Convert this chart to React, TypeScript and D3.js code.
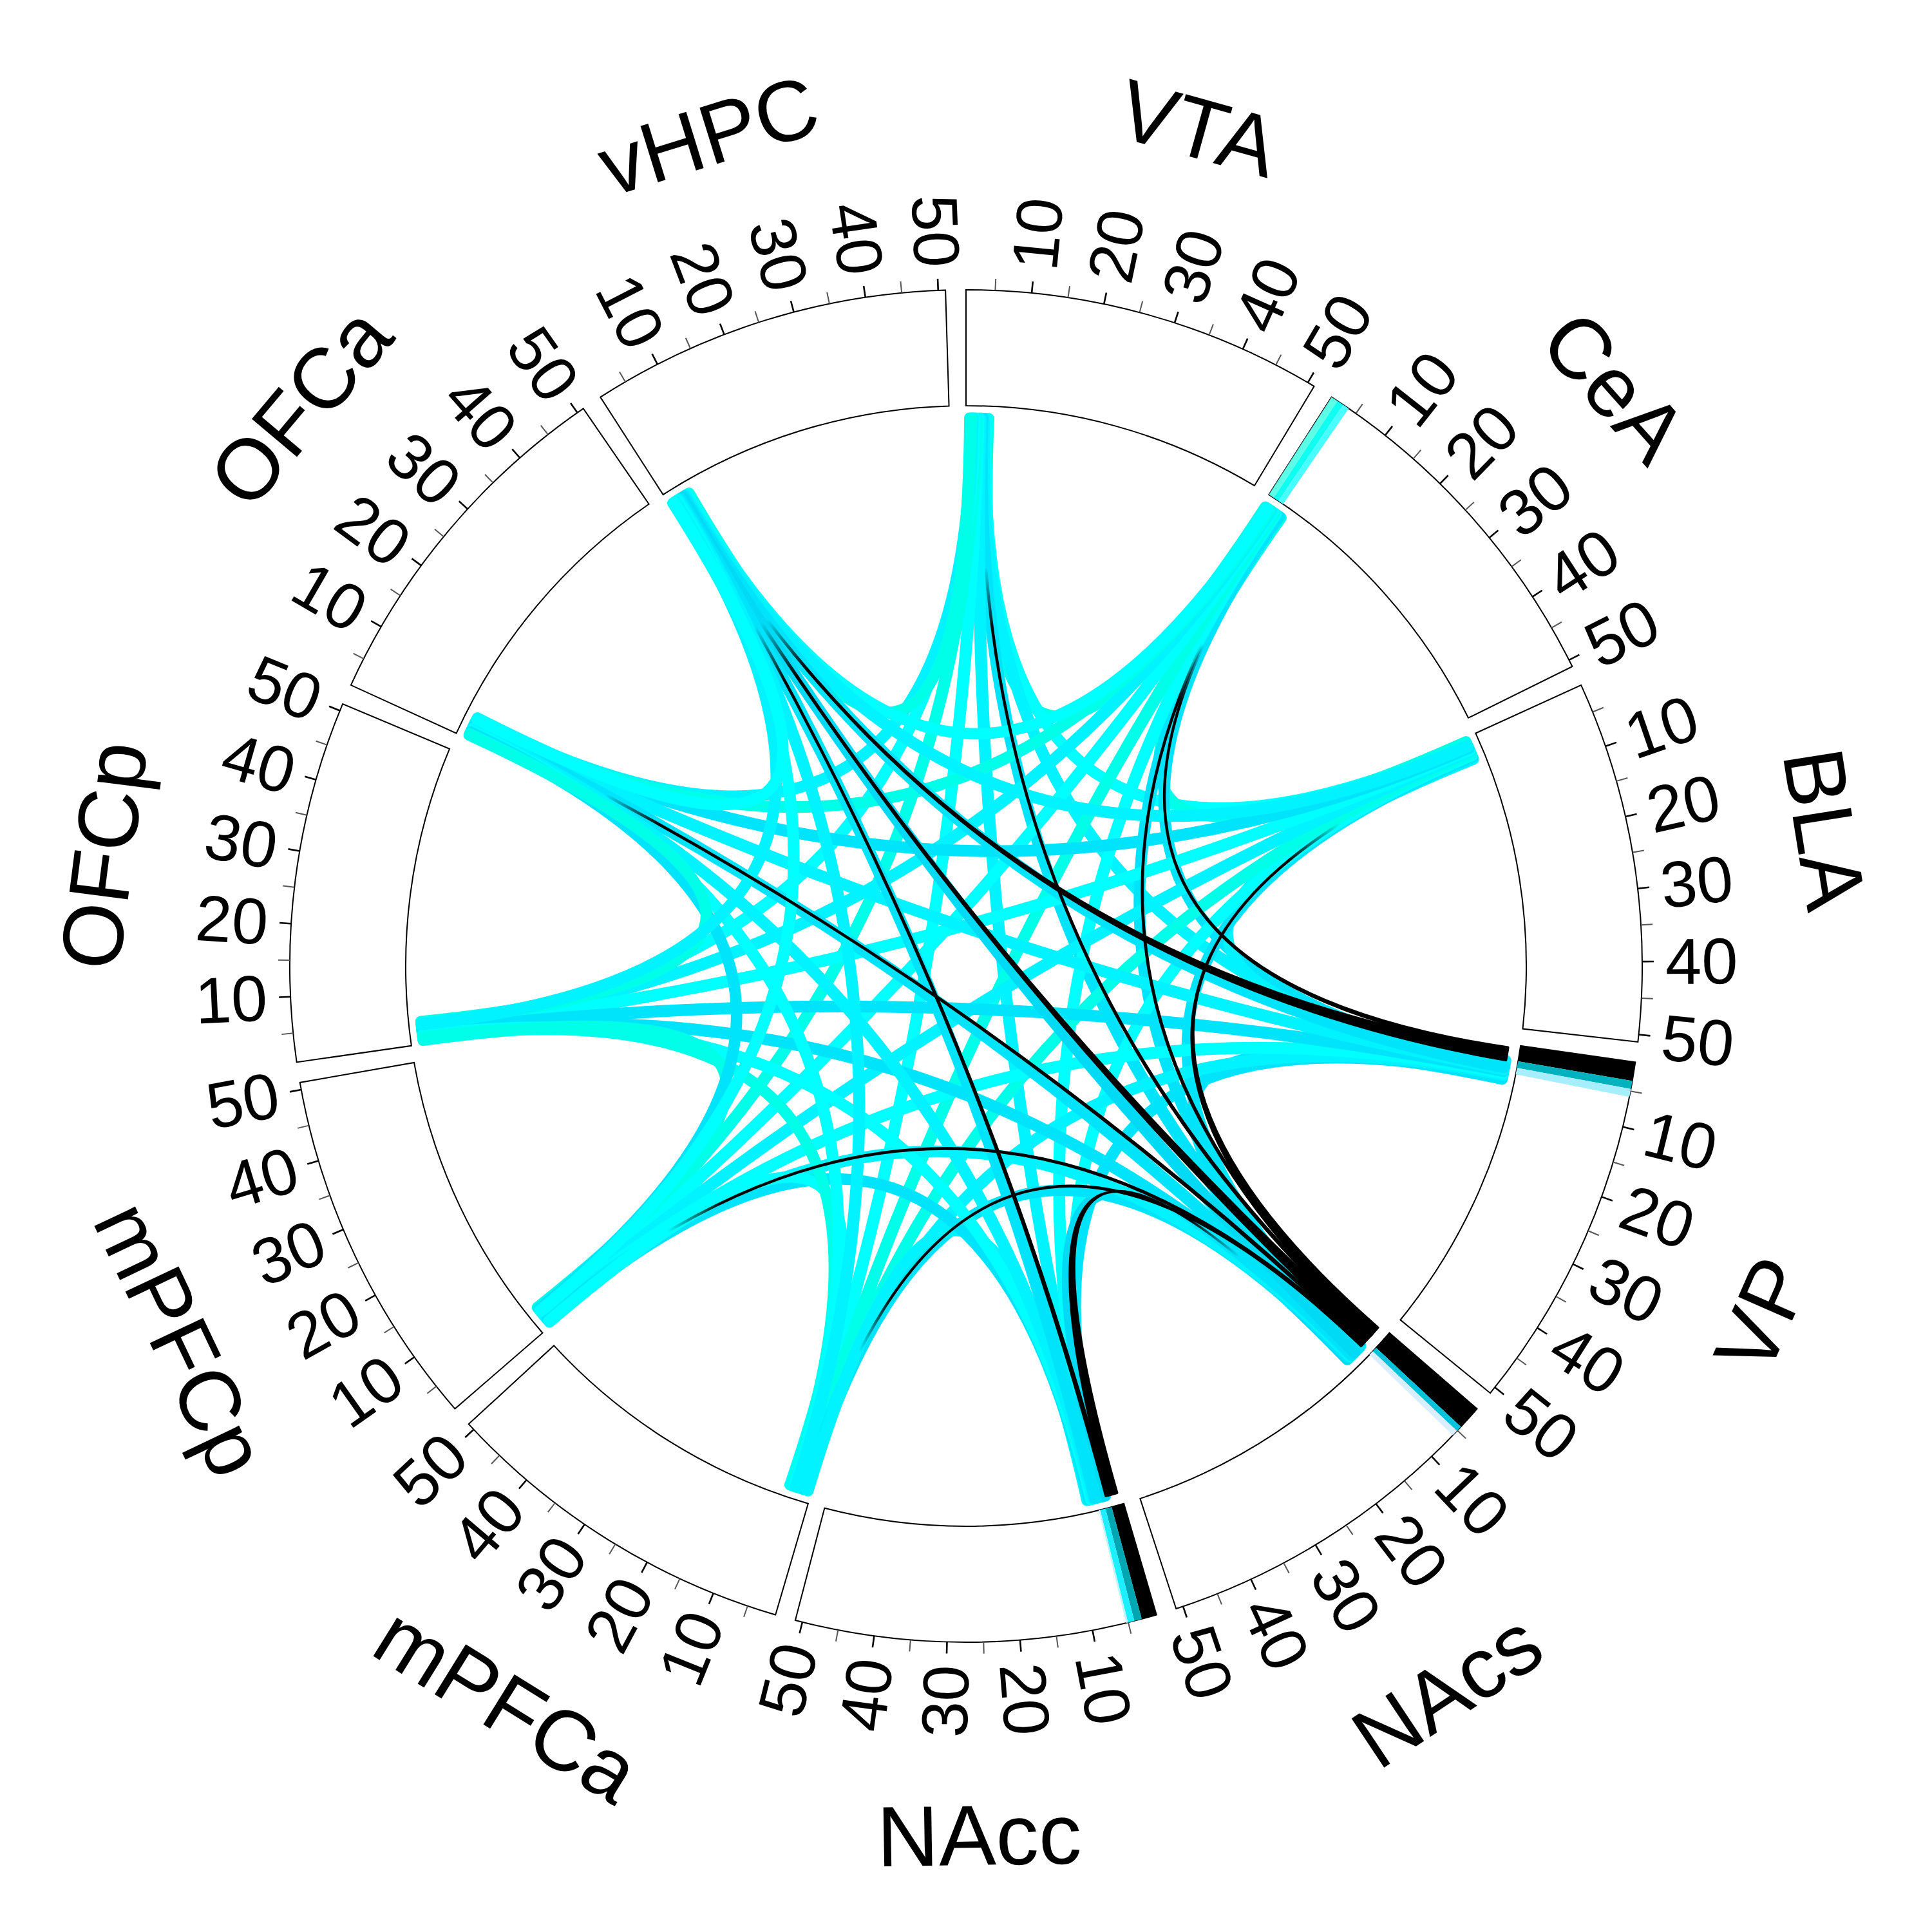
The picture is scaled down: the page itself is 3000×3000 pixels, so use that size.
import React from 'react'
import * as d3 from 'd3'

const SECTORS = ['VTA', 'CeA', 'BLA', 'VP', 'NAcs', 'NAcc', 'mPFCa', 'mPFCp', 'OFCp', 'OFCa', 'vHPC']
const SECTOR_RANGE: [number, number] = [1, 51]
const MAJOR_TICKS = [10, 20, 30, 40, 50]
const MINOR_TICKS = [5, 15, 25, 35, 45]

// link colours
const CY = '#00ffff'
const CL = '#00f3ff'
const CB = '#00e4fb'
const CD = '#00daf4'
const CG = '#00ffe8'

// every pair of regions, with the colour of its link
const CYAN_LINKS: [string, string, string][] = [
  ['VTA', 'CeA', CG], ['VTA', 'BLA', CY], ['VTA', 'VP', CL], ['VTA', 'NAcs', CB], ['VTA', 'NAcc', CL],
  ['VTA', 'mPFCa', CY], ['VTA', 'mPFCp', CG], ['VTA', 'OFCp', CY], ['VTA', 'OFCa', CL], ['VTA', 'vHPC', CG],
  ['CeA', 'BLA', CG], ['CeA', 'VP', CB], ['CeA', 'NAcs', CB], ['CeA', 'NAcc', CY], ['CeA', 'mPFCa', CG],
  ['CeA', 'mPFCp', CY], ['CeA', 'OFCp', CL], ['CeA', 'OFCa', CG], ['CeA', 'vHPC', CY],
  ['BLA', 'VP', CL], ['BLA', 'NAcs', CB], ['BLA', 'NAcc', CY], ['BLA', 'mPFCa', CG], ['BLA', 'mPFCp', CL],
  ['BLA', 'OFCp', CY], ['BLA', 'OFCa', CB], ['BLA', 'vHPC', CL],
  ['VP', 'NAcs', CB], ['VP', 'NAcc', CB], ['VP', 'mPFCa', CL], ['VP', 'mPFCp', CY], ['VP', 'OFCp', CB],
  ['VP', 'OFCa', CL], ['VP', 'vHPC', CB],
  ['NAcs', 'NAcc', CD], ['NAcs', 'mPFCa', CB], ['NAcs', 'mPFCp', CL], ['NAcs', 'OFCp', CB], ['NAcs', 'OFCa', CB],
  ['NAcs', 'vHPC', CD],
  ['NAcc', 'mPFCa', CL], ['NAcc', 'mPFCp', CB], ['NAcc', 'OFCp', CY], ['NAcc', 'OFCa', CL], ['NAcc', 'vHPC', CB],
  ['mPFCa', 'mPFCp', CY], ['mPFCa', 'OFCp', CG], ['mPFCa', 'OFCa', CY], ['mPFCa', 'vHPC', CL],
  ['mPFCp', 'OFCp', CG], ['mPFCp', 'OFCa', CB], ['mPFCp', 'vHPC', CY],
  ['OFCp', 'OFCa', CG], ['OFCp', 'vHPC', CL],
  ['OFCa', 'vHPC', CY],
]

// black ribbons: thin end region, thick end region, width at thin end, width at thick end
const BLACK_LINKS: [string, string, number, number][] = [
  ['VTA', 'NAcs', 0.08, 0.35],
  ['CeA', 'NAcs', 0.08, 0.3],
  ['CeA', 'VP', 0.08, 0.45],
  ['vHPC', 'NAcc', 0.06, 0.45],
  ['OFCa', 'NAcs', 0.06, 0.35],
  ['mPFCp', 'NAcs', 0.05, 0.25],
  ['mPFCa', 'NAcs', 0.05, 0.25],
  ['BLA', 'NAcs', 0.08, 1.25],
  ['vHPC', 'VP', 0.08, 1.7],
  ['vHPC', 'NAcs', 0.1, 1.45],
  ['NAcs', 'NAcc', 0.08, 1.5],
]

// stacked blocks in the track at the start of some sectors
const TRACK_BARS: [string, number, number, string][] = [
  ['CeA', 1, 1.95, '#5cffe6'],
  ['CeA', 1.95, 2.9, '#0ffff0'],
  ['CeA', 2.9, 3.8, '#48ffff'],
  ['VP', 1, 3.6, '#000000'],
  ['VP', 3.6, 4.7, '#00b2be'],
  ['VP', 4.7, 5.8, '#a6eefb'],
  ['NAcs', 1, 4.3, '#000000'],
  ['NAcs', 4.3, 5.1, '#00c2da'],
  ['NAcs', 5.1, 5.9, '#d9eefe'],
  ['NAcc', 1, 3.1, '#000000'],
  ['NAcc', 3.1, 4.15, '#00a7b3'],
  ['NAcc', 4.15, 5.05, '#1cefff'],
  ['NAcc', 5.05, 5.3, '#bdf6ff'],
]

const SIZE = 3000
const CX = 1500
const CYC = 1500
const R_OUT = 1050
const R_IN = 870
const R_LINK = 851
const GAP_DEG = 1.74
const STEP_DEG = 360 / SECTORS.length
const TICK_LEN = 18
const R_TICK_LABEL = 1086
const R_NAME = 1350
const CYAN_W = 0.28
const SLOT_GAP = 0.05
const POS0 = 1.6
const FADE_R = 330
const FONT = 'Liberation Sans, Arial, sans-serif'

const scales = SECTORS.map((_, i) =>
  d3.scaleLinear().domain(SECTOR_RANGE).range([i * STEP_DEG, i * STEP_DEG + STEP_DEG - GAP_DEG])
)
const deg = (i: number, v: number) => scales[i](v)
const rad = (i: number, v: number) => (deg(i, v) * Math.PI) / 180
const idx = (n: string) => SECTORS.indexOf(n)

type Link = { s: number; t: number; color: string; ws: number; wt: number; black: boolean }

const links: Link[] = [
  ...CYAN_LINKS.map(([s, t, c]) => ({ s: idx(s), t: idx(t), color: c, ws: CYAN_W, wt: CYAN_W, black: false })),
  ...BLACK_LINKS.map(([s, t, ws, wt]) => ({ s: idx(s), t: idx(t), color: '#000000', ws, wt, black: true })),
]

// stack the link ends inside each sector: black thick ends first, then the cyan ones;
// black thin ends sit on the cyan link of the same pair
const ends = links.map(() => ({ s: [0, 0] as [number, number], t: [0, 0] as [number, number] }))
SECTORS.forEach((_, i) => {
  const items: any[] = []
  links.forEach((l, li) => {
    if (l.s === i) items.push({ li, side: 's', partner: l.t, w: l.ws, lead: false, black: l.black })
    if (l.t === i) items.push({ li, side: 't', partner: l.s, w: l.wt, lead: l.black, black: l.black })
  })
  const off = (j: number) => (j - i + SECTORS.length) % SECTORS.length
  const slots = items
    .filter(d => !d.black || d.lead)
    .sort((a, b) => Number(b.lead) - Number(a.lead) || off(b.partner) - off(a.partner))
  let pos = POS0
  const cyanSlot = new Map<number, [number, number]>()
  slots.forEach((d, k) => {
    d.range = [pos, pos + d.w]
    const next = slots[k + 1]
    pos += d.w + (d.black && next && next.black ? 0 : SLOT_GAP)
    if (!d.black) cyanSlot.set(d.partner, d.range)
  })
  items.filter(d => d.black && !d.lead).forEach(d => {
    const r = cyanSlot.get(d.partner) as [number, number]
    const mid = (r[0] + r[1]) / 2
    d.range = [mid - d.w / 2, mid + d.w / 2]
  })
  items.forEach(d => { (ends[d.li] as any)[d.side] = d.range })
})

const pt = (r: number, a: number): [number, number] => [CX + r * Math.sin(a), CYC - r * Math.cos(a)]

const ribbon = (l: Link, e: { s: [number, number]; t: [number, number] }) => {
  const a1 = rad(l.s, e.s[0])
  const a2 = rad(l.s, e.s[1])
  const b1 = rad(l.t, e.t[0])
  const b2 = rad(l.t, e.t[1])
  const p = d3.path()
  const p1 = pt(R_LINK, a1)
  const q1 = pt(R_LINK, b1)
  p.moveTo(p1[0], p1[1])
  p.arc(CX, CYC, R_LINK, a1 - Math.PI / 2, a2 - Math.PI / 2)
  p.quadraticCurveTo(CX, CYC, q1[0], q1[1])
  p.arc(CX, CYC, R_LINK, b1 - Math.PI / 2, b2 - Math.PI / 2)
  p.quadraticCurveTo(CX, CYC, p1[0], p1[1])
  p.closePath()
  return p.toString()
}

const arcGen = d3.arc<any>()

const App = () => {
  const all = links.map((l, i) => ({ l, i }))
  const cyan = all.filter(d => !d.l.black)
  const black = all.filter(d => d.l.black)
  // the thin end of a black ribbon disappears under its cyan twin
  const thinEnd = (d: { l: Link; i: number }) => {
    const r = ends[d.i].s
    return pt(R_LINK, rad(d.l.s, (r[0] + r[1]) / 2))
  }

  return (
    <svg width={SIZE} height={SIZE} style={{ position: 'absolute', left: 0, top: 0, background: '#fff' }}>
      <defs>
        <radialGradient id="fade-grad">
          <stop offset="0" stopColor="#000" />
          <stop offset="0.7" stopColor="#000" />
          <stop offset="1" stopColor="#fff" />
        </radialGradient>
        {black.map(d => {
          const [x, y] = thinEnd(d)
          return (
            <mask key={'m' + d.i} id={'fade-' + d.i} maskUnits="userSpaceOnUse" x={0} y={0} width={SIZE} height={SIZE}>
              <rect width={SIZE} height={SIZE} fill="#fff" />
              <circle cx={x} cy={y} r={FADE_R} fill="url(#fade-grad)" />
            </mask>
          )
        })}
      </defs>
      <rect width={SIZE} height={SIZE} fill="#fff" />
      <g>
        {cyan.map(d => (
          <path key={'c' + d.i} d={ribbon(d.l, ends[d.i])} fill={d.l.color} stroke={d.l.color} strokeWidth={17} strokeLinejoin="round" />
        ))}
        {black.map(d => (
          <path
            key={'k' + d.i}
            d={ribbon(d.l, ends[d.i])}
            fill="#000"
            stroke="#000"
            strokeWidth={4}
            strokeLinejoin="round"
            mask={`url(#fade-${d.i})`}
          />
        ))}
      </g>
      <g transform={`translate(${CX},${CYC})`}>
        {SECTORS.map((name, i) => (
          <path
            key={'box' + name}
            d={arcGen({ innerRadius: R_IN, outerRadius: R_OUT, startAngle: rad(i, SECTOR_RANGE[0]), endAngle: rad(i, SECTOR_RANGE[1]) }) as string}
            fill="none"
            stroke="#000"
            strokeWidth={2}
          />
        ))}
        {TRACK_BARS.map(([name, v0, v1, color], k) => (
          <path
            key={'bar' + k}
            d={arcGen({ innerRadius: R_IN, outerRadius: R_OUT, startAngle: rad(idx(name), v0), endAngle: rad(idx(name), v1) }) as string}
            fill={color}
          />
        ))}
        {SECTORS.map((name, i) => (
          <g key={'ticks' + name}>
            {MINOR_TICKS.map(v => (
              <line key={'mn' + v} transform={`rotate(${deg(i, v)})`} x1={0} x2={0} y1={-R_OUT} y2={-(R_OUT + TICK_LEN)} stroke="#555" strokeWidth={2} />
            ))}
            {MAJOR_TICKS.map(v => (
              <line key={'mj' + v} transform={`rotate(${deg(i, v)})`} x1={0} x2={0} y1={-R_OUT} y2={-(R_OUT + TICK_LEN)} stroke="#000" strokeWidth={2.6} />
            ))}
            {MAJOR_TICKS.map(v => {
              const a = deg(i, v)
              const flip = a >= 180
              return (
                <text
                  key={'tl' + v}
                  transform={flip ? `rotate(${a + 90}) translate(${-R_TICK_LABEL},0)` : `rotate(${a - 90}) translate(${R_TICK_LABEL},0)`}
                  textAnchor={flip ? 'end' : 'start'}
                  dominantBaseline="central"
                  fontFamily={FONT}
                  fontSize={101}
                  fill="#000"
                >
                  {v}
                </text>
              )
            })}
          </g>
        ))}
        {SECTORS.map((name, i) => {
          const a = deg(i, (SECTOR_RANGE[0] + SECTOR_RANGE[1]) / 2)
          const r = (a * Math.PI) / 180
          const x = R_NAME * Math.sin(r)
          const y = -R_NAME * Math.cos(r)
          const rot = a > 90 && a < 270 ? a - 180 : a
          return (
            <text
              key={'name' + name}
              transform={`translate(${x},${y}) rotate(${rot})`}
              textAnchor="middle"
              dominantBaseline="central"
              fontFamily={FONT}
              fontSize={133}
              fill="#000"
            >
              {name}
            </text>
          )
        })}
      </g>
    </svg>
  )
}

export default App
